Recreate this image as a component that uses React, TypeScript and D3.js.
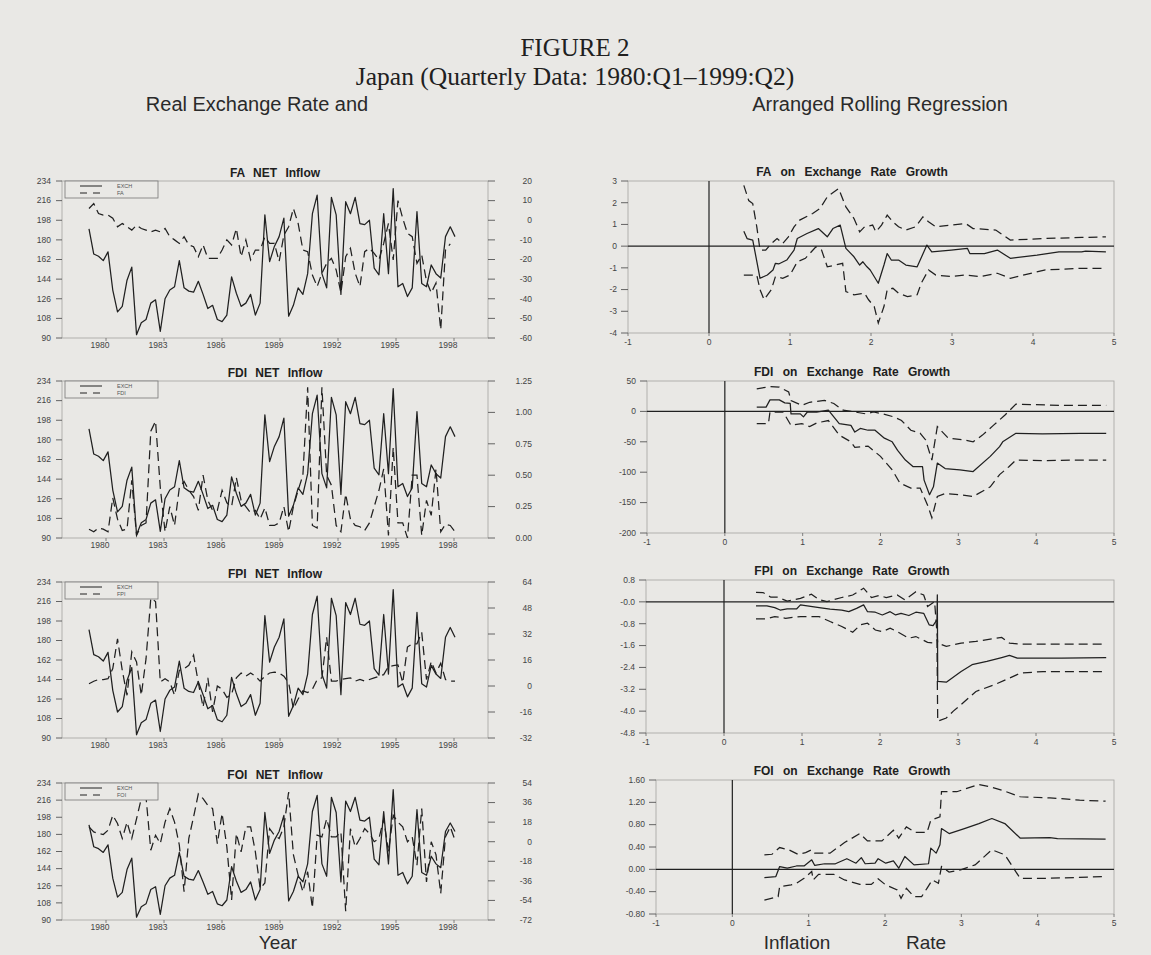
import React from 'react';
import * as d3 from 'd3';

const W = 1151;
const H = 955;

const BG = '#e9e8e5';
const INK = '#202020';
const FRAME = '#a3a3a0';
const SANS = '"Liberation Sans", Arial, Helvetica, sans-serif';
const SERIF = '"Liberation Serif", "Times New Roman", serif';

// quarterly series, 1980:Q1 - 1999:Q2
const exch = [
  190, 167, 165, 161, 169, 134, 114, 119, 143, 155,
  93, 104, 107, 122, 125, 96, 126, 134, 137, 161,
  136, 133, 132, 142, 130, 117, 120, 107, 105, 111,
  146, 131, 119, 122, 130, 111, 122, 203, 160, 174,
  183, 200, 110, 120, 136, 130, 149, 204, 221, 149,
  136, 219, 203, 130, 215, 204, 219, 195, 194, 198,
  154, 148, 204, 149, 227, 137, 140, 128, 136, 206,
  140, 137, 157, 149, 145, 183, 192, 183,
];

const fa = [
  6, 8.5, 3.4, 2.6, 2.6, 1, -3.3, -1.6, -3.3, -5,
  -2.5, -4.2, -5, -5.9, -5, -5.9, -4.2, -8.4, -10, -11.8,
  -8.4, -12.6, -13.5, -18.6, -12.6, -19.4, -19.4, -19.4, -15.2, -10,
  -12.6, -4.2, -18.6, -10, -20.2, -15.2, -15.2, -8.4, -11.8, -11.8,
  -21, -7.6, -3.3, 6, -1.6, -15.2, -16, -27.9, -33.8, -27,
  -22, -19.4, -25.3, -37, -18.6, -14.3, -27, -33.8, -16, -14.3,
  -16.9, -20.2, -11.8, -1.6, -20.2, 10, 1, -6.7, -8.4, -22,
  -17.7, -31, -37, -32, -55.8, -15.2, -12, null,
];

const fdi = [
  0.07, 0.05, 0.08, 0.07, 0.05, 0.32, 0.15, 0.06, 0.07, 0.46,
  0.02, 0.1, 0.12, 0.85, 0.93, 0.4, 0.05, 0.25, 0.1, 0.4,
  0.45, 0.38, 0.33, 0.22, 0.5, 0.3, 0.22, 0.22, 0.38, 0.28,
  0.25, 0.48, 0.3, 0.25, 0.2, 0.22, 0.15, 0.24, 0.1, 0.1,
  0.12, 0.25, 0.05, 0.25, 0.38, 0.5, 1.2, 0.1, 0.08, 1.2,
  0.5, 0.42, 0.1, 0.05, 0.35, 0.15, 0.1, 0.09, 0.06, 0.12,
  0.25, 0.38, 0.55, 0.02, 0.72, 0.12, 0.12, 0.0, 0.5, 0.5,
  0.02, 0.3, 0.18, 0.55, 0.05, 0.11, 0.1, 0.05,
];

const fpi = [
  1.4, 2.9, 4, 4, 4.5, 10.7, 29, 9.6, -5.7, 21,
  14.8, -5.7, 16.8, 54, 52, 2.5, 4.5, 2.5, -5.7, 9.6,
  10.7, 12.7, 19, 2, -13, 5, -16, 0, -2, -7,
  -5, 5, 8, 6, 8, 6, 3, 6, 8, 8.5,
  8, 6, 2, -14, -8, -3, -4, -2, 4, 5,
  30, 3, 3, 4, 4.5, 5, 3, 4, 3, 4,
  5, 6, 7, 12, 12.5, 13, 2, 24, 26, 26,
  33, 4, 15, 8, 14, 4, 3, 3,
];

const foi = [
  13.6, 9, 7.5, 6.6, 10.6, 24.3, 16.7, 3, 18, 3,
  21, 39.6, 41, -7.8, 6, -1.7, 18, 30.5, 18, -3,
  -46, 3, 22.8, 44, 39.6, 33.5, 30.5, -1.7, 26, -4.7,
  -53.6, 7.5, -9.3, 13.6, 13.6, -9.3, -43, -38, 12, 6,
  3, 13.6, 45.7, -12, -30.7, -46, -27.6, -61, 6, 4.5,
  21, 4.5, 4.5, 9, -64, 12, -4.7, 3, 12, 7.5,
  0, 3, 21, -9.3, 24.3, 18, 13.6, 0, 4.5, -21.5,
  30.5, -37, 0, -12, -47.5, 4.5, 13.6, 1.4,
];

const yearLabels = [1980, 1983, 1986, 1989, 1992, 1995, 1998];
const exchTicks = [90, 108, 126, 144, 162, 180, 198, 216, 234];
const faTicks = [-60, -50, -40, -30, -20, -10, 0, 10, 20];
const fdiTicks = [0, 0.25, 0.5, 0.75, 1.0, 1.25];
const fpiTicks = [-32, -16, 0, 16, 32, 48, 64];
const foiTicks = [-72, -54, -36, -18, 0, 18, 36, 54];

// rolling regression: [inflation rate, coefficient]
const faEst: [number, number][] = [
  [0.43, 0.69], [0.47, 0.35], [0.54, 0.28], [0.63, -1.48], [0.72, -1.33], [0.79, -1.1],
  [0.82, -0.79], [0.86, -0.82], [0.96, -0.64], [1.05, -0.18], [1.09, 0.35], [1.21, 0.58],
  [1.35, 0.81], [1.46, 0.43], [1.53, 0.81], [1.62, 0.97], [1.69, -0.1], [1.79, -0.49],
  [1.86, -0.87], [1.9, -0.72], [1.95, -0.95], [1.99, -1.1], [2.09, -1.71], [2.16, -0.87],
  [2.2, -0.34], [2.25, -0.64], [2.34, -0.64], [2.43, -0.87], [2.57, -0.95], [2.69, 0.05],
  [2.75, -0.26], [2.99, -0.18], [3.19, -0.1], [3.22, -0.34], [3.4, -0.34], [3.56, -0.18],
  [3.72, -0.56], [4.05, -0.41], [4.32, -0.26], [4.6, -0.26], [4.65, -0.23], [4.9, -0.26],
];
const faUp: [number, number][] = [
  [0.43, 2.8], [0.49, 2.1], [0.54, 1.96], [0.59, 0.89], [0.63, -0.18], [0.7, -0.18],
  [0.77, 0.12], [0.84, 0.35], [0.91, 0.12], [0.98, 0.43], [1.05, 0.89], [1.12, 1.2],
  [1.28, 1.5], [1.37, 1.73], [1.46, 2.27], [1.6, 2.65], [1.69, 1.81], [1.79, 1.27],
  [1.86, 0.66], [1.92, 0.89], [2.02, 0.97], [2.06, 0.66], [2.13, 0.97], [2.2, 1.43],
  [2.27, 1.12], [2.34, 0.89], [2.43, 0.74], [2.55, 0.89], [2.64, 1.35], [2.71, 1.12],
  [2.8, 0.89], [2.99, 0.97], [3.17, 1.04], [3.26, 0.81], [3.54, 0.74], [3.72, 0.28],
  [4.14, 0.35], [4.6, 0.4], [4.9, 0.43],
];
const faLo: [number, number][] = [
  [0.43, -1.33], [0.59, -1.33], [0.63, -2.0], [0.68, -2.47], [0.77, -2.0], [0.82, -1.4],
  [0.91, -1.48], [1.0, -1.33], [1.09, -0.72], [1.19, -0.56], [1.32, -0.03], [1.39, -0.18],
  [1.46, -0.95], [1.56, -0.87], [1.65, -0.79], [1.69, -2.09], [1.79, -2.24], [1.92, -2.17],
  [1.97, -2.47], [2.04, -2.78], [2.09, -3.54], [2.16, -2.78], [2.2, -2.0], [2.27, -1.94],
  [2.34, -2.17], [2.45, -2.32], [2.57, -2.24], [2.62, -1.71], [2.71, -1.1], [2.8, -1.33],
  [2.99, -1.4], [3.17, -1.33], [3.35, -1.4], [3.56, -1.25], [3.72, -1.48], [4.14, -1.1],
  [4.6, -1.02], [4.9, -1.02],
];

const fdiEst: [number, number][] = [
  [0.41, 7], [0.53, 7], [0.58, 19], [0.7, 19], [0.77, 14], [0.84, 13], [0.85, -4],
  [0.97, -4], [1.01, -9], [1.06, -1], [1.18, -1], [1.33, 2], [1.47, -20], [1.62, -23],
  [1.67, -34], [1.74, -28], [1.84, -31], [1.93, -31], [2.05, -44], [2.15, -50], [2.22, -64],
  [2.32, -80], [2.42, -91], [2.54, -91], [2.56, -113], [2.63, -137], [2.68, -124], [2.73, -85],
  [2.83, -94], [3.02, -96], [3.19, -99], [3.41, -74], [3.53, -58], [3.57, -50], [3.74, -36],
  [4.08, -37], [4.57, -36], [4.9, -36],
];
const fdiUp: [number, number][] = [
  [0.41, 37], [0.58, 41], [0.7, 40], [0.82, 32], [0.85, 18], [0.99, 10], [1.09, 15],
  [1.28, 18], [1.4, 13], [1.52, 2], [1.67, -1], [1.81, -4], [1.91, -1], [2.03, -4],
  [2.17, -9], [2.27, -15], [2.39, -31], [2.51, -36], [2.58, -47], [2.66, -80], [2.73, -25],
  [2.87, -44], [3.07, -47], [3.19, -50], [3.31, -39], [3.45, -23], [3.6, -6], [3.74, 12],
  [4.32, 10], [4.9, 10],
];
const fdiLo: [number, number][] = [
  [0.41, -20], [0.56, -20], [0.58, -1], [0.75, -1], [0.85, -23], [0.99, -20], [1.09, -25],
  [1.18, -19], [1.33, -15], [1.47, -39], [1.62, -50], [1.67, -59], [1.84, -57], [2.0, -74],
  [2.15, -96], [2.25, -118], [2.39, -126], [2.51, -126], [2.61, -156], [2.66, -175],
  [2.73, -140], [2.83, -135], [3.02, -137], [3.19, -140], [3.41, -124], [3.53, -104],
  [3.65, -91], [3.74, -80], [4.08, -81], [4.57, -80], [4.9, -80],
];

const fpiEst: [number, number][] = [
  [0.41, -0.15], [0.55, -0.15], [0.65, -0.21], [0.72, -0.3], [0.81, -0.26], [0.93, -0.26],
  [0.98, -0.11], [1.22, -0.21], [1.36, -0.27], [1.51, -0.3], [1.6, -0.36], [1.7, -0.24],
  [1.79, -0.11], [1.84, -0.36], [1.94, -0.38], [2.03, -0.48], [2.13, -0.36], [2.2, -0.48],
  [2.27, -0.42], [2.37, -0.5], [2.46, -0.38], [2.56, -0.42], [2.63, -0.84], [2.68, -0.87],
  [2.73, -0.66], [2.735, 0.26], [2.74, -2.91], [2.85, -2.94], [3.04, -2.55], [3.18, -2.3],
  [3.37, -2.18], [3.56, -2.04], [3.66, -1.96], [3.76, -2.06], [4.33, -2.06], [4.9, -2.04],
];
const fpiUp: [number, number][] = [
  [0.41, 0.35], [0.5, 0.34], [0.6, 0.17], [0.69, 0.17], [0.81, 0.03], [0.98, 0.13],
  [1.12, 0.28], [1.22, 0.08], [1.32, 0.01], [1.51, 0.16], [1.65, 0.25], [1.79, 0.5],
  [1.89, 0.16], [1.99, 0.23], [2.08, 0.16], [2.22, 0.25], [2.32, 0.07], [2.46, 0.37],
  [2.56, 0.25], [2.61, -0.17], [2.7, 0.01], [2.74, -1.51], [2.85, -1.63], [3.04, -1.51],
  [3.23, -1.45], [3.56, -1.3], [3.66, -1.51], [3.8, -1.55], [4.9, -1.55],
];
const fpiLo: [number, number][] = [
  [0.41, -0.62], [0.55, -0.62], [0.65, -0.54], [0.79, -0.6], [0.98, -0.54], [1.22, -0.54],
  [1.36, -0.72], [1.51, -0.9], [1.65, -1.11], [1.75, -0.84], [1.84, -0.78], [1.94, -1.03],
  [2.03, -1.09], [2.13, -0.96], [2.22, -1.09], [2.37, -1.33], [2.46, -1.27], [2.61, -1.48],
  [2.68, -1.51], [2.73, -1.39], [2.74, -4.37], [2.85, -4.25], [2.94, -4.0], [3.04, -3.76],
  [3.23, -3.28], [3.47, -3.03], [3.66, -2.79], [3.8, -2.61], [4.09, -2.55], [4.9, -2.55],
];

const foiEst: [number, number][] = [
  [0.42, -0.15], [0.57, -0.13], [0.62, 0.05], [0.72, 0.02], [0.84, 0.06], [0.94, 0.06],
  [1.04, 0.17], [1.08, 0.07], [1.21, 0.1], [1.35, 0.1], [1.5, 0.19], [1.62, 0.11],
  [1.69, 0.21], [1.74, 0.1], [1.87, 0.11], [1.91, 0.19], [2.01, 0.11], [2.11, 0.15],
  [2.18, 0.02], [2.26, 0.23], [2.38, 0.08], [2.57, 0.1], [2.6, 0.38], [2.67, 0.29],
  [2.72, 0.44], [2.74, 0.73], [2.84, 0.64], [3.04, 0.73], [3.23, 0.82], [3.4, 0.91],
  [3.57, 0.82], [3.77, 0.56], [4.16, 0.57], [4.26, 0.55], [4.89, 0.54],
];
const foiUp: [number, number][] = [
  [0.42, 0.26], [0.52, 0.27], [0.62, 0.39], [0.74, 0.35], [0.86, 0.27], [0.96, 0.3],
  [1.04, 0.35], [1.08, 0.29], [1.28, 0.29], [1.47, 0.48], [1.67, 0.64], [1.77, 0.51],
  [1.96, 0.51], [2.11, 0.7], [2.18, 0.56], [2.28, 0.76], [2.4, 0.66], [2.55, 0.66],
  [2.6, 0.88], [2.72, 0.94], [2.74, 1.39], [2.94, 1.39], [3.23, 1.52], [3.4, 1.47],
  [3.57, 1.4], [3.77, 1.3], [4.16, 1.28], [4.55, 1.24], [4.89, 1.22],
];
const foiLo: [number, number][] = [
  [0.42, -0.55], [0.6, -0.49], [0.62, -0.31], [0.77, -0.28], [0.84, -0.25], [0.94, -0.16],
  [1.04, -0.04], [1.06, -0.19], [1.13, -0.09], [1.33, -0.09], [1.47, -0.19], [1.67, -0.27],
  [1.82, -0.27], [1.91, -0.17], [2.01, -0.28], [2.16, -0.37], [2.21, -0.52], [2.28, -0.34],
  [2.38, -0.49], [2.48, -0.49], [2.55, -0.34], [2.62, -0.19], [2.7, -0.25], [2.74, 0.05],
  [2.84, -0.05], [2.99, -0.01], [3.18, 0.08], [3.4, 0.35], [3.57, 0.26], [3.77, -0.16],
  [4.16, -0.16], [4.89, -0.13],
];

const inflTicks = [-1, 0, 1, 2, 3, 4, 5];
const faCoefTicks = [-4, -3, -2, -1, 0, 1, 2, 3];
const fdiCoefTicks = [-200, -150, -100, -50, 0, 50];
const fpiCoefTicks = [-4.8, -4.0, -3.2, -2.4, -1.6, -0.8, 0, 0.8];
const foiCoefTicks = [-0.8, -0.4, 0, 0.4, 0.8, 1.2, 1.6];

const leftPanels = [
  { name: 'FA', flow: fa, ticks: faTicks, fmt: (v: number) => String(v), top: 181, bottom: 338 },
  { name: 'FDI', flow: fdi, ticks: fdiTicks, fmt: (v: number) => v.toFixed(2), top: 381, bottom: 538 },
  { name: 'FPI', flow: fpi, ticks: fpiTicks, fmt: (v: number) => String(v), top: 582, bottom: 738 },
  { name: 'FOI', flow: foi, ticks: foiTicks, fmt: (v: number) => String(v), top: 783, bottom: 920 },
];

const rightPanels = [
  { name: 'FA', est: faEst, up: faUp, lo: faLo, ticks: faCoefTicks, fmt: (v: number) => String(v), left: 628, top: 181, bottom: 333 },
  { name: 'FDI', est: fdiEst, up: fdiUp, lo: fdiLo, ticks: fdiCoefTicks, fmt: (v: number) => String(v), left: 647, top: 381, bottom: 533 },
  { name: 'FPI', est: fpiEst, up: fpiUp, lo: fpiLo, ticks: fpiCoefTicks, fmt: (v: number) => (v === 0 ? '-0.0' : v.toFixed(1)), left: 646, top: 580, bottom: 733 },
  { name: 'FOI', est: foiEst, up: foiUp, lo: foiLo, ticks: foiCoefTicks, fmt: (v: number) => v.toFixed(2), left: 656, top: 780, bottom: 914 },
];

const DASH = '9 5';

function LeftPanel({ p }: { p: any }) {
  const x0 = 62, x1 = 488;
  const xq = d3.scaleLinear().domain([0, exch.length - 1]).range([89, 455]);
  const xYear = d3.scaleLinear().domain([1980, 1998]).range([100, 448]);
  const yL = d3.scaleLinear().domain([90, 234]).range([p.bottom, p.top]);
  const yR = d3.scaleLinear().domain(d3.extent(p.ticks) as [number, number]).range([p.bottom, p.top]);
  const exchLine = d3.line<number>().x((_, i) => xq(i)).y(d => yL(d));
  const flowLine = d3.line<number | null>()
    .defined(d => d != null)
    .x((_, i) => xq(i))
    .y(d => yR(d as number));
  const clipId = `clip-left-${p.name}`;
  const lx = 65, lw = 93, lh = 17;

  return (
    <g>
      <defs>
        <clipPath id={clipId}>
          <rect x={x0} y={p.top} width={x1 - x0} height={p.bottom - p.top} />
        </clipPath>
      </defs>
      <rect x={x0} y={p.top} width={x1 - x0} height={p.bottom - p.top} fill="none" stroke={FRAME} strokeWidth={0.8} />
      <text x={275} y={p.top - 4} textAnchor="middle" fontFamily={SANS} fontWeight="bold" fontSize={12}
        style={{ wordSpacing: '5px' }} fill={INK}>
        {`${p.name} NET Inflow`}
      </text>

      {exchTicks.map(t => (
        <g key={`l${t}`}>
          <line x1={x0 - 6} x2={x0} y1={yL(t)} y2={yL(t)} stroke="#555" strokeWidth={0.9} />
          <text x={51} y={yL(t)} dy="0.33em" textAnchor="end" fontFamily={SANS} fontSize={8.5} fill="#444">{t}</text>
        </g>
      ))}
      {p.ticks.map((t: number) => (
        <g key={`r${t}`}>
          <line x1={x1} x2={x1 + 7} y1={yR(t)} y2={yR(t)} stroke="#555" strokeWidth={0.9} />
          <text x={532} y={yR(t)} dy="0.33em" textAnchor="end" fontFamily={SANS} fontSize={8.5} fill="#444">{p.fmt(t)}</text>
        </g>
      ))}
      {yearLabels.map(yr => (
        <g key={yr}>
          <line x1={xYear(yr) + 6} x2={xYear(yr) + 6} y1={p.bottom} y2={p.bottom + 3} stroke="#666" strokeWidth={0.8} />
          <text x={xYear(yr)} y={p.bottom + 10} textAnchor="middle" fontFamily={SANS} fontSize={8.5} fill="#444">{yr}</text>
        </g>
      ))}

      <g clipPath={`url(#${clipId})`}>
        <path d={flowLine(p.flow) || ''} fill="none" stroke={INK} strokeWidth={1.25} strokeDasharray={DASH} />
        <path d={exchLine(exch) || ''} fill="none" stroke={INK} strokeWidth={1.25} strokeLinejoin="round" />
      </g>

      <rect x={lx} y={p.top} width={lw} height={lh} fill={BG} stroke="#777" strokeWidth={0.8} />
      <line x1={80} x2={102} y1={p.top + 5} y2={p.top + 5} stroke={INK} strokeWidth={1} />
      <line x1={80} x2={102} y1={p.top + 12} y2={p.top + 12} stroke={INK} strokeWidth={1} strokeDasharray="7 6" />
      <text x={117} y={p.top + 7} fontFamily={SANS} fontSize={5.5} fill="#555">EXCH</text>
      <text x={117} y={p.top + 14} fontFamily={SANS} fontSize={5.5} fill="#555">{p.name}</text>
    </g>
  );
}

function RightPanel({ p }: { p: any }) {
  const x1 = 1114;
  const x = d3.scaleLinear().domain([-1, 5]).range([p.left, x1]);
  const y = d3.scaleLinear().domain(d3.extent(p.ticks) as [number, number]).range([p.bottom, p.top]);
  const line = d3.line<[number, number]>().x(d => x(d[0])).y(d => y(d[1]));

  return (
    <g>
      <rect x={p.left} y={p.top} width={x1 - p.left} height={p.bottom - p.top} fill="none" stroke={FRAME} strokeWidth={0.8} />
      <text x={852} y={p.top - 5} textAnchor="middle" fontFamily={SANS} fontWeight="bold" fontSize={12}
        style={{ wordSpacing: '6px' }} fill={INK}>
        {`${p.name} on Exchange Rate Growth`}
      </text>
      {p.ticks.map((t: number) => (
        <g key={t}>
          <line x1={p.left - 7} x2={p.left} y1={y(t)} y2={y(t)} stroke="#555" strokeWidth={0.9} />
          <text x={p.left - 11} y={y(t)} dy="0.33em" textAnchor="end" fontFamily={SANS} fontSize={8.5} fill="#444">{p.fmt(t)}</text>
        </g>
      ))}
      {inflTicks.map(t => (
        <g key={`x${t}`}>
          <line x1={x(t)} x2={x(t)} y1={p.bottom} y2={p.bottom + 3} stroke="#666" strokeWidth={0.8} />
          <text x={x(t)} y={p.bottom + 12} textAnchor="middle" fontFamily={SANS} fontSize={8.5} fill="#444">{t}</text>
        </g>
      ))}
      <line x1={p.left} x2={x1} y1={y(0)} y2={y(0)} stroke={INK} strokeWidth={1.2} />
      <line x1={x(0)} x2={x(0)} y1={p.top} y2={p.bottom} stroke={INK} strokeWidth={1.2} />
      <path d={line(p.up) || ''} fill="none" stroke={INK} strokeWidth={1.25} strokeDasharray={DASH} />
      <path d={line(p.lo) || ''} fill="none" stroke={INK} strokeWidth={1.25} strokeDasharray={DASH} />
      <path d={line(p.est) || ''} fill="none" stroke={INK} strokeWidth={1.25} strokeLinejoin="round" />
    </g>
  );
}

export default function App() {
  return (
    <svg width={W} height={H} style={{ display: 'block', position: 'absolute', left: 0, top: 0, background: BG }}>
      <rect x={0} y={0} width={W} height={H} fill={BG} />
      <text x={575} y={56} textAnchor="middle" fontFamily={SERIF} fontSize={25} fill={INK}>FIGURE 2</text>
      <text x={575} y={85} textAnchor="middle" fontFamily={SERIF} fontSize={25.5} fill={INK}>
        Japan (Quarterly Data: 1980:Q1–1999:Q2)
      </text>
      <text x={257} y={111} textAnchor="middle" fontFamily={SANS} fontSize={20} fill="#2a2a2a">Real Exchange Rate and</text>
      <text x={880} y={111} textAnchor="middle" fontFamily={SANS} fontSize={20} fill="#2a2a2a">Arranged Rolling Regression</text>

      {leftPanels.map(p => <LeftPanel key={p.name} p={p} />)}
      {rightPanels.map(p => <RightPanel key={p.name} p={p} />)}

      <text x={278} y={949} textAnchor="middle" fontFamily={SANS} fontSize={19} fill="#2a2a2a">Year</text>
      <text x={797} y={949} textAnchor="middle" fontFamily={SANS} fontSize={19} fill="#2a2a2a">Inflation</text>
      <text x={926} y={949} textAnchor="middle" fontFamily={SANS} fontSize={19} fill="#2a2a2a">Rate</text>
    </svg>
  );
}
